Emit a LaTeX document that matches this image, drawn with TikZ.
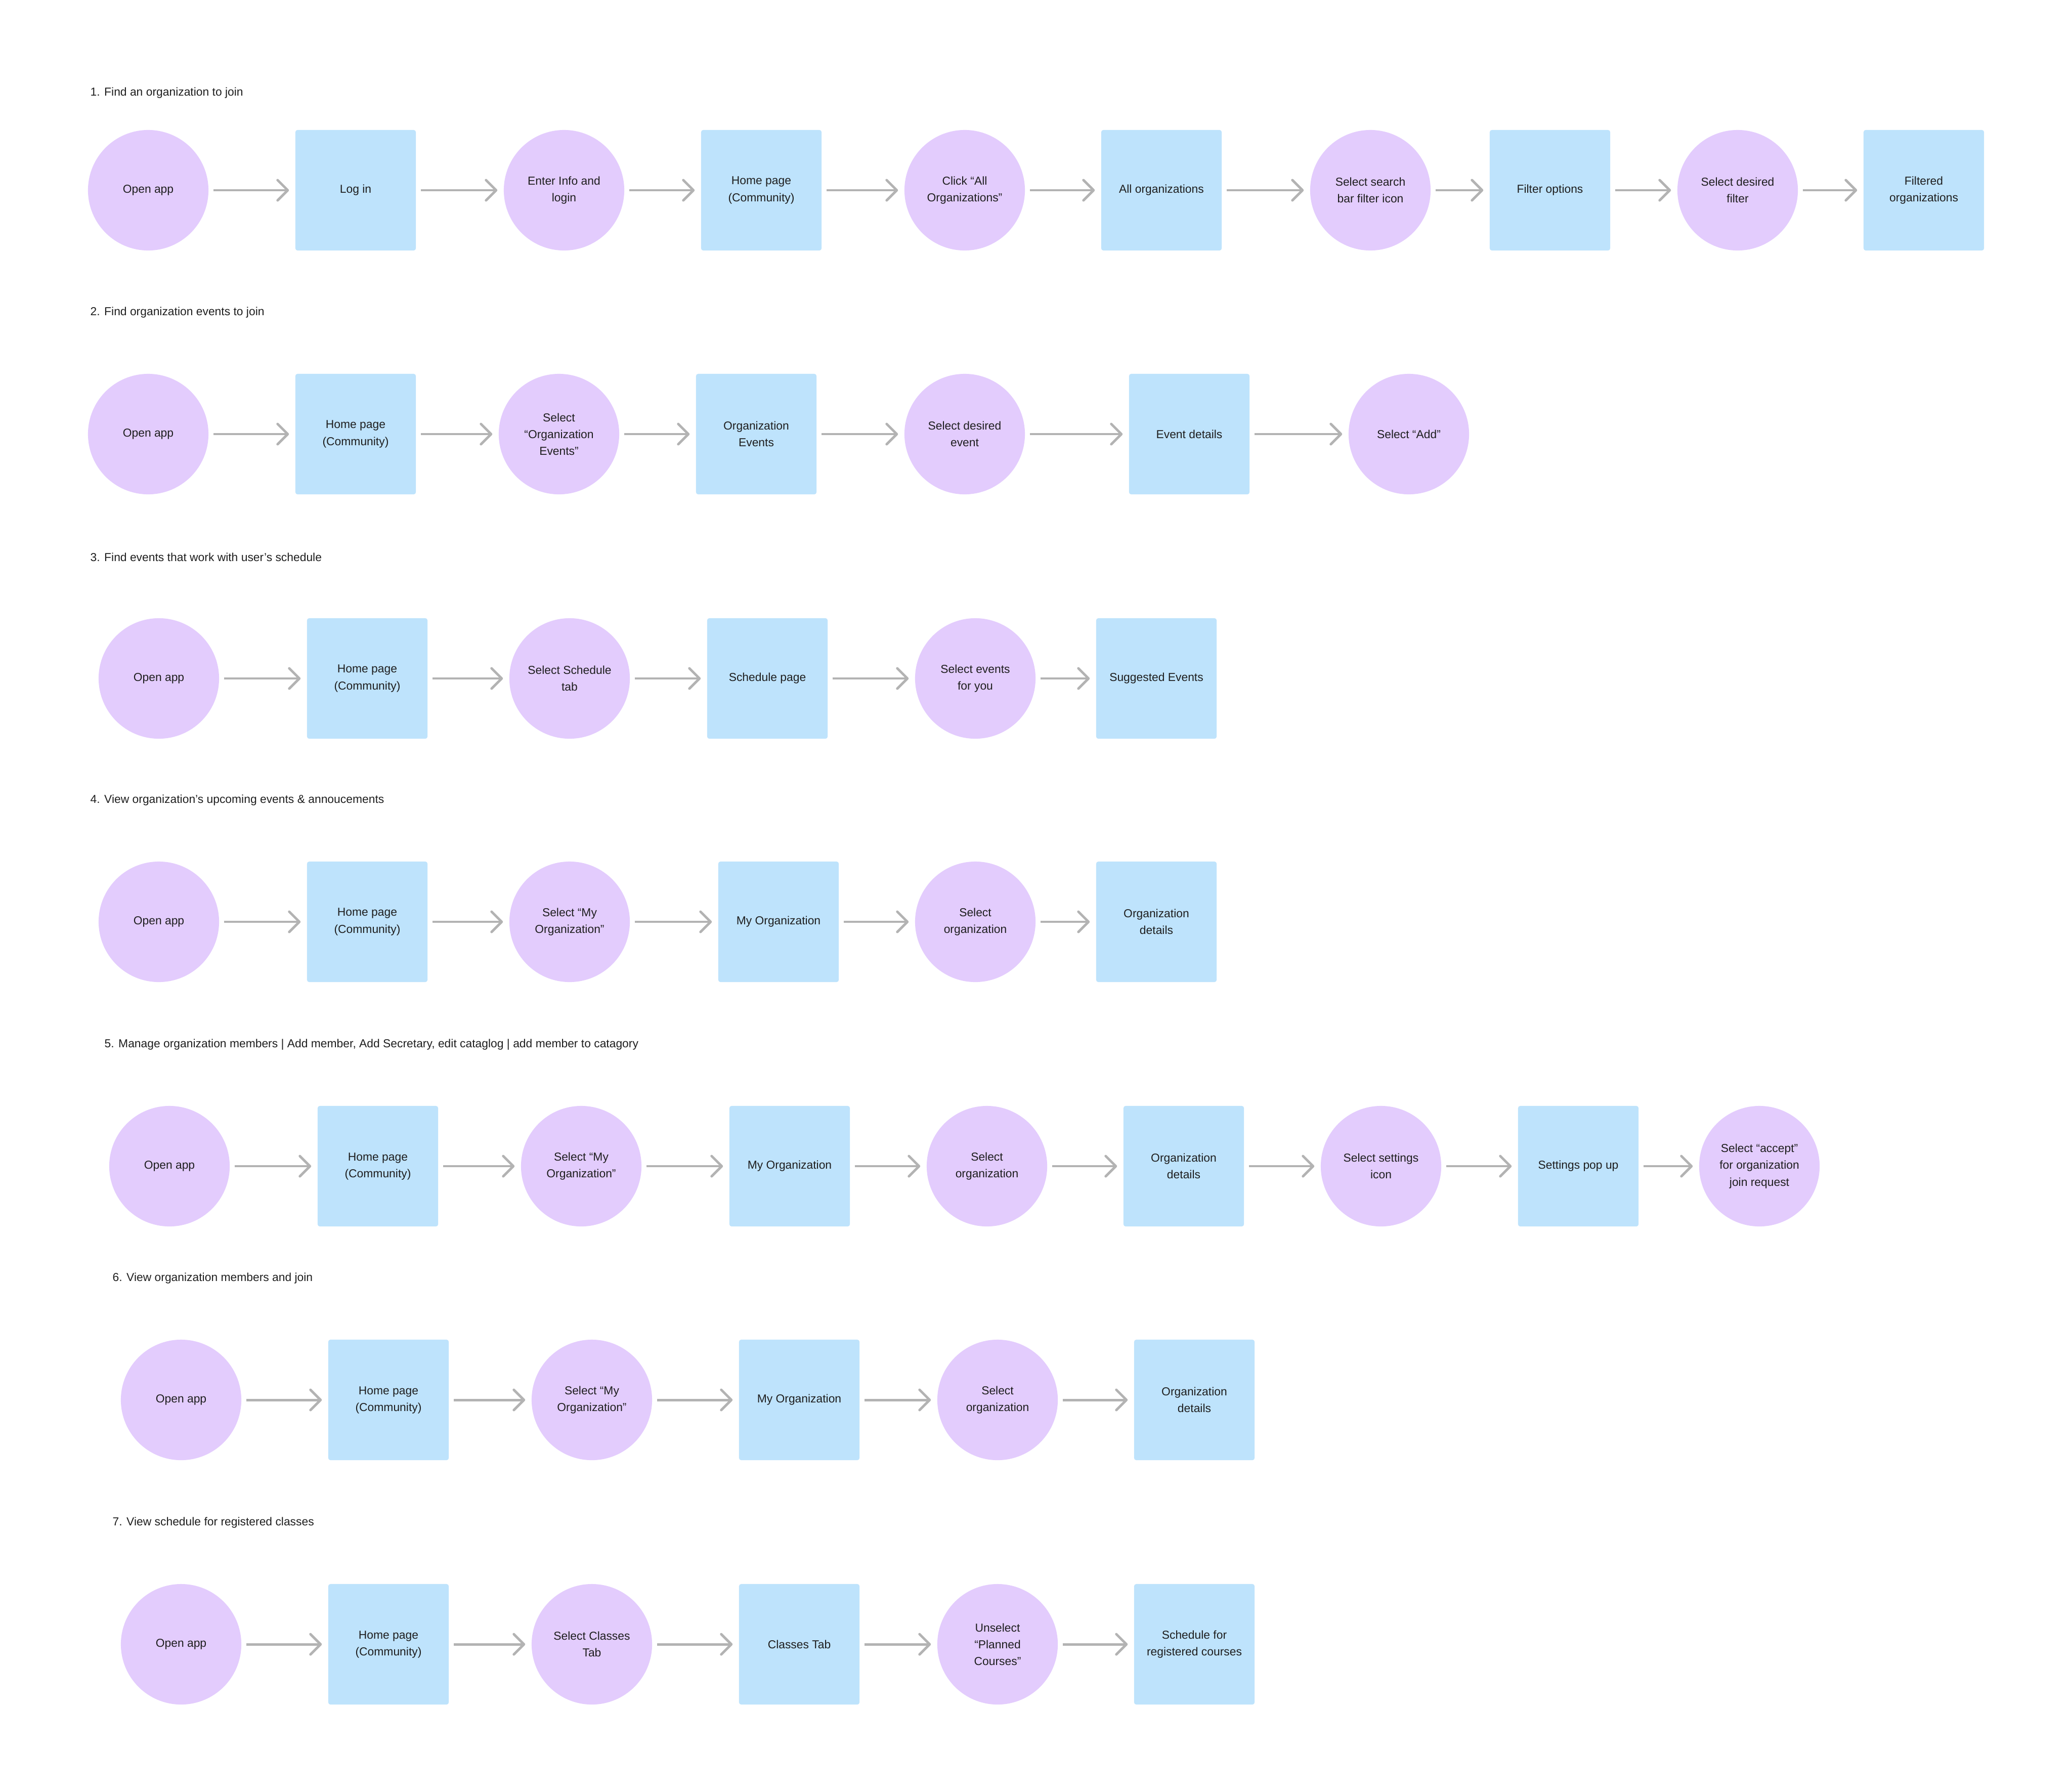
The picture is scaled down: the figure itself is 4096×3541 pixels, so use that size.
\documentclass[tikz,border=0pt]{standalone}
\usepackage{fontspec}
\setmainfont{Liberation Sans}
\usetikzlibrary{arrows.meta}
\definecolor{actfill}{HTML}{E3CCFD}
\definecolor{screenfill}{HTML}{BEE3FC}
\definecolor{flowgray}{HTML}{B3B3B3}
\definecolor{inkdark}{HTML}{1E1E1E}

\begin{document}
\begin{tikzpicture}[x=0.01cm, y=-0.01cm,
  act/.style={circle, fill=actfill, minimum size=2.38cm, inner sep=0pt, align=center,
    text=inkdark, font=\fontsize{6.5}{9.4}\selectfont},
  screen/.style={rectangle, rounded corners=1.2pt, fill=screenfill, minimum size=2.38cm,
    inner sep=0pt, align=center, text=inkdark, font=\fontsize{6.5}{9.4}\selectfont},
  flow/.style={draw=flowgray, line width=1.4pt, -{Straight Barb[length=2mm, width=4mm, round]},
    shorten <=0.09cm, shorten >=0.12cm},
  flowtitle/.style={anchor=west, inner sep=0pt, text=inkdark, font=\fontsize{6.5}{9.4}\selectfont}]
\fill[white] (0,0) rectangle (4096,3541);
\useasboundingbox (0,0) rectangle (4096,3541);

% 1
\node[flowtitle] (t1) at (178,184) {1. Find an organization to join};
\node[act] (open1) at (293,376) {Open app};
\node[screen] (login1) at (703,376) {Log in};
\node[act] (info1) at (1115,376) {Enter Info and\\login};
\node[screen] (home1) at (1505,376) {Home page\\(Community)};
\node[act] (clickall1) at (1907,376) {Click “All\\Organizations”};
\node[screen] (allorgs1) at (2296,376) {All organizations};
\node[act] (search1) at (2709,376) {Select search\\bar filter icon};
\node[screen] (filter1) at (3064,376) {Filter options};
\node[act] (pickfilter1) at (3435,376) {Select desired\\filter};
\node[screen] (filtered1) at (3803,376) {Filtered\\organizations};
\draw[flow] (open1) -- (login1);
\draw[flow] (login1) -- (info1);
\draw[flow] (info1) -- (home1);
\draw[flow] (home1) -- (clickall1);
\draw[flow] (clickall1) -- (allorgs1);
\draw[flow] (allorgs1) -- (search1);
\draw[flow] (search1) -- (filter1);
\draw[flow] (filter1) -- (pickfilter1);
\draw[flow] (pickfilter1) -- (filtered1);

% 2
\node[flowtitle] (t2) at (178,618) {2. Find organization events to join};
\node[act] (open2) at (293,858) {Open app};
\node[screen] (home2) at (703,858) {Home page\\(Community)};
\node[act] (selorg2) at (1105,858) {Select\\“Organization\\Events”};
\node[screen] (orgevents2) at (1495,858) {Organization\\Events};
\node[act] (selevent2) at (1907,858) {Select desired\\event};
\node[screen] (details2) at (2351,858) {Event details};
\node[act] (add2) at (2785,858) {Select “Add”};
\draw[flow] (open2) -- (home2);
\draw[flow] (home2) -- (selorg2);
\draw[flow] (selorg2) -- (orgevents2);
\draw[flow] (orgevents2) -- (selevent2);
\draw[flow] (selevent2) -- (details2);
\draw[flow] (details2) -- (add2);

% 3
\node[flowtitle] (t3) at (178,1101) {3. Find events that work with user’s schedule};
\node[act] (open3) at (314,1341) {Open app};
\node[screen] (home3) at (726,1341) {Home page\\(Community)};
\node[act] (schedtab3) at (1126,1341) {Select Schedule\\tab};
\node[screen] (schedpage3) at (1517,1341) {Schedule page};
\node[act] (selevents3) at (1928,1341) {Select events\\for you};
\node[screen] (suggested3) at (2286,1341) {Suggested Events};
\draw[flow] (open3) -- (home3);
\draw[flow] (home3) -- (schedtab3);
\draw[flow] (schedtab3) -- (schedpage3);
\draw[flow] (schedpage3) -- (selevents3);
\draw[flow] (selevents3) -- (suggested3);

% 4
\node[flowtitle] (t4) at (178,1582) {4. View organization’s upcoming events \& annoucements};
\node[act] (open4) at (314,1822) {Open app};
\node[screen] (home4) at (726,1822) {Home page\\(Community)};
\node[act] (selmy4) at (1126,1822) {Select “My\\Organization”};
\node[screen] (myorg4) at (1539,1822) {My Organization};
\node[act] (selorg4) at (1928,1822) {Select\\organization};
\node[screen] (details4) at (2286,1822) {Organization\\details};
\draw[flow] (open4) -- (home4);
\draw[flow] (home4) -- (selmy4);
\draw[flow] (selmy4) -- (myorg4);
\draw[flow] (myorg4) -- (selorg4);
\draw[flow] (selorg4) -- (details4);

% 5
\node[flowtitle] (t5) at (206,2065) {5. Manage organization members | Add member, Add Secretary, edit cataglog | add member to catagory};
\node[act] (open5) at (335,2305) {Open app};
\node[screen] (home5) at (747,2305) {Home page\\(Community)};
\node[act] (selmy5) at (1149,2305) {Select “My\\Organization”};
\node[screen] (myorg5) at (1561,2305) {My Organization};
\node[act] (selorg5) at (1951,2305) {Select\\organization};
\node[screen] (details5) at (2340,2305) {Organization\\details};
\node[act] (settings5) at (2730,2305) {Select settings\\icon};
\node[screen] (popup5) at (3120,2305) {Settings pop up};
\node[act] (accept5) at (3478,2305) {Select “accept”\\for organization\\join request};
\draw[flow] (open5) -- (home5);
\draw[flow] (home5) -- (selmy5);
\draw[flow] (selmy5) -- (myorg5);
\draw[flow] (myorg5) -- (selorg5);
\draw[flow] (selorg5) -- (details5);
\draw[flow] (details5) -- (settings5);
\draw[flow] (settings5) -- (popup5);
\draw[flow] (popup5) -- (accept5);

% 6
\node[flowtitle] (t6) at (222,2527) {6. View organization members and join};
\node[act] (open6) at (358,2767) {Open app};
\node[screen] (home6) at (768,2767) {Home page\\(Community)};
\node[act] (selmy6) at (1170,2767) {Select “My\\Organization”};
\node[screen] (myorg6) at (1580,2767) {My Organization};
\node[act] (selorg6) at (1972,2767) {Select\\organization};
\node[screen] (details6) at (2361,2767) {Organization\\details};
\draw[flow] (open6) -- (home6);
\draw[flow] (home6) -- (selmy6);
\draw[flow] (selmy6) -- (myorg6);
\draw[flow] (myorg6) -- (selorg6);
\draw[flow] (selorg6) -- (details6);

% 7
\node[flowtitle] (t7) at (222,3010) {7. View schedule for registered classes};
\node[act] (open7) at (358,3250) {Open app};
\node[screen] (home7) at (768,3250) {Home page\\(Community)};
\node[act] (classtab7) at (1170,3250) {Select Classes\\Tab};
\node[screen] (classes7) at (1580,3250) {Classes Tab};
\node[act] (unselect7) at (1972,3250) {Unselect\\“Planned\\Courses”};
\node[screen] (registered7) at (2361,3250) {Schedule for\\registered courses};
\draw[flow] (open7) -- (home7);
\draw[flow] (home7) -- (classtab7);
\draw[flow] (classtab7) -- (classes7);
\draw[flow] (classes7) -- (unselect7);
\draw[flow] (unselect7) -- (registered7);
\end{tikzpicture}
\end{document}
